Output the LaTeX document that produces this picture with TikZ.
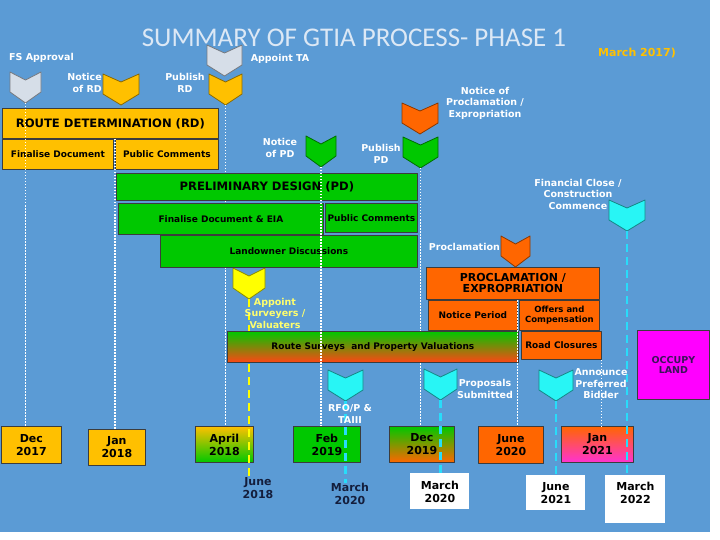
\documentclass[tikz,border=0pt]{standalone}
\usepackage{fontspec}
\newfontfamily\lblfont{DejaVu Sans}
\newfontfamily\ttlfont{Carlito}

\definecolor{bgblue}{RGB}{91,155,213}
\definecolor{ttlcol}{RGB}{220,232,245}
\definecolor{gold}{RGB}{255,192,0}
\definecolor{pdgreen}{RGB}{0,200,0}
\definecolor{prorange}{RGB}{255,102,0}
\definecolor{rsred}{RGB}{255,70,20}
\definecolor{mkcyan}{RGB}{40,245,245}
\definecolor{lncyan}{RGB}{40,220,250}
\definecolor{mkgray}{RGB}{214,222,232}
\definecolor{mkyellow}{RGB}{255,255,0}
\definecolor{lblyel}{RGB}{255,255,110}
\definecolor{occmag}{RGB}{255,0,255}
\definecolor{janmag}{RGB}{255,50,210}
\definecolor{boxline}{RGB}{60,60,60}
\definecolor{navy}{RGB}{20,30,60}
\definecolor{occtext}{RGB}{60,20,90}

\tikzset{
  blk/.style={draw=boxline, line width=0.8pt, anchor=north west, inner sep=1pt, align=center,
    text=black, font=\lblfont\bfseries\fontsize{9}{10.5}\selectfont},
  head/.style={blk, font=\lblfont\bfseries\fontsize{11.6}{11.5}\selectfont},
  datebox/.style={blk, font=\lblfont\bfseries\fontsize{11}{13}\selectfont},
  wbox/.style={datebox, fill=white, draw=none},
  lbl/.style={text=white, align=center, inner sep=0pt, font=\lblfont\bfseries\fontsize{9.5}{11.5}\selectfont},
  navytxt/.style={lbl, text=navy, font=\lblfont\bfseries\fontsize{11}{13.5}\selectfont},
  dotline/.style={white, line width=1.3pt, dash pattern=on 1.5pt off 1.5pt},
  dashln/.style={line width=2.8pt, dash pattern=on 8pt off 5pt},
}

% chevron marker: name, centre x, top y, width, colour
\newcommand{\chevron}[5]{%
  \filldraw[fill=#5, draw=#5!55!black, line width=0.8pt]
    ({#2-#4/2},#3) -- (#2,{#3+8}) -- ({#2+#4/2},#3) -- ({#2+#4/2},{#3+20})
    -- (#2,{#3+31}) -- ({#2-#4/2},{#3+20}) -- cycle;
  \coordinate (#1) at (#2,{#3+31});
}

\begin{document}
\begin{tikzpicture}[x=1pt, y=-1pt, line join=round]

  %% ════ background ════
  \fill[white] (0,0) rectangle (720,540);
  \fill[bgblue] (0,0) rectangle (710,532);

  %% ════ title ════
  \node[font=\ttlfont\fontsize{27}{30}\selectfont, text=ttlcol] (title) at (354,38) {SUMMARY OF GTIA PROCESS- PHASE 1};
  \node[lbl, text=gold, font=\lblfont\bfseries\fontsize{11}{13}\selectfont] (asat) at (637,53) {March 2017)};

  %% ════ date boxes ════
  \node[datebox, fill=gold, minimum width=60pt, minimum height=37pt] (dec17) at (1,426) {Dec\\2017};
  \node[datebox, fill=gold, minimum width=57pt, minimum height=36pt] (jan18) at (88,429) {Jan\\2018};
  \node[datebox, top color=gold, bottom color=pdgreen, minimum width=58pt, minimum height=36pt] (apr18) at (195,426) {April\\2018};
  \node[datebox, fill=pdgreen, minimum width=67pt, minimum height=36pt] (feb19) at (293,426) {Feb\\2019};
  \node[datebox, top color=pdgreen, bottom color=prorange, minimum width=65pt, minimum height=36pt] (dec19) at (389,426) {Dec\\2019};
  \node[datebox, fill=prorange, minimum width=65pt, minimum height=37pt] (jun20) at (478,426) {June\\2020};
  \node[datebox, top color=prorange, bottom color=janmag, minimum width=72pt, minimum height=36pt] (jan21) at (561,426) {Jan\\2021};
  \node[wbox, minimum width=59pt, minimum height=36pt] (mar20b) at (410,473) {March\\2020};
  \node[wbox, minimum width=59pt, minimum height=35pt] (jun21) at (526,475) {June\\2021};
  \node[wbox, minimum width=60pt, minimum height=48pt] (mar22) at (605,475) {March\\2022\\\mbox{}};
  \node[navytxt] (jun18) at (258,488) {June\\2018};
  \node[navytxt] (mar20a) at (350,494) {March\\2020};

  %% ════ markers ════
  \chevron{fs}{25.5}{72}{31}{mkgray}
  \chevron{notrd}{121}{74}{36}{gold}
  \chevron{pubrd}{225.5}{74}{33}{gold}
  \chevron{appta}{224.5}{45}{35}{mkgray}
  \chevron{notpd}{321}{136}{30}{pdgreen}
  \chevron{notpr}{420}{103}{36}{prorange}
  \chevron{pubpd}{420.5}{137}{35}{pdgreen}
  \chevron{fincl}{627}{200}{36}{mkcyan}
  \chevron{procl}{515.5}{236}{29}{prorange}
  \chevron{appsv}{249}{268}{32}{mkyellow}
  \chevron{rfop}{345.5}{370}{35}{mkcyan}
  \chevron{propsub}{440.5}{369}{33}{mkcyan}
  \chevron{annbid}{556}{370}{34}{mkcyan}

  %% ════ lines behind the phase boxes ════
  \draw[dotline] (pubrd) -- (pubrd |- apr18.north);
  \draw[dotline] (pubpd) -- (pubpd |- dec19.north);
  \draw[dashln, mkyellow] (appsv) -- (appsv |- jun18.north);
  \draw[dashln, lncyan] (rfop) -- (rfop |- mar20a.north);
  \draw[dashln, lncyan] (propsub) -- (propsub |- mar20b.north);
  \draw[dashln, lncyan] (annbid) -- (annbid |- jun21.north);
  \draw[dashln, lncyan] (fincl) -- (fincl |- mar22.north);

  %% ════ phase boxes ════
  \node[head, fill=gold, minimum width=216pt, minimum height=30pt] (rdmain) at (2,108) {ROUTE DETERMINATION (RD)};
  \node[blk, fill=gold, minimum width=111pt, minimum height=30pt] (rdfin) at (2,139) {Finalise Document};
  \node[blk, fill=gold, minimum width=103pt, minimum height=30pt] (rdpub) at (115,139) {Public Comments};

  \node[head, fill=pdgreen, minimum width=301pt, minimum height=27pt] (pdmain) at (116,173) {PRELIMINARY DESIGN (PD)};
  \node[blk, fill=pdgreen, minimum width=205pt, minimum height=31pt] (pdfin) at (118,203) {Finalise Document \& EIA};
  \node[blk, fill=pdgreen, minimum width=92pt, minimum height=29pt] (pdpub) at (325,203) {Public Comments};
  \node[blk, fill=pdgreen, minimum width=257pt, minimum height=32pt] (pdland) at (160,235) {Landowner Discussions};

  \node[head, fill=prorange, minimum width=173pt, minimum height=32pt, font=\lblfont\bfseries\fontsize{11}{11}\selectfont] (prmain) at (426,267) {PROCLAMATION /\\EXPROPRIATION};
  \node[blk, fill=prorange, minimum width=89pt, minimum height=30pt] (notper) at (428,300) {Notice Period};
  \node[blk, fill=prorange, minimum width=80pt, minimum height=30pt, font=\lblfont\bfseries\fontsize{8.5}{10}\selectfont] (offers) at (519,300) {Offers and\\Compensation};
  \node[blk, fill=prorange, minimum width=80pt, minimum height=28pt] (roadcl) at (521,331) {Road Closures};

  \node[blk, top color=pdgreen, bottom color=rsred, minimum width=291pt, minimum height=31pt] (route) at (227,331) {Route Surveys\ \ and Property Valuations};
  \node[blk, fill=occmag, text=occtext, minimum width=72pt, minimum height=69pt, font=\lblfont\bfseries\fontsize{9.5}{10.5}\selectfont] (occupy) at (637,330) {OCCUPY\\LAND};

  %% ════ lines over the boxes ════
  \draw[dotline] (fs) -- (fs |- dec17.north);
  \draw[dotline] (notpd) -- (notpd |- feb19.north);
  \draw[dotline] (rdpub.north west) -- (rdpub.north west |- jan18.north);
  \draw[dotline] (notper.north east) -- (notper.north east |- jun20.north);
  \draw[dotline] (roadcl.south east) -- (roadcl.south east |- jan21.north);

  %% ════ marker labels ════
  \node[lbl] (fsl) at (41.5,58) {FS Approval};
  \node[lbl, align=right, anchor=east] (notrdl) at (102,83) {Notice\\of RD};
  \node[lbl] (pubrdl) at (185,83) {Publish\\RD};
  \node[lbl] (apptal) at (280,59) {Appoint TA};
  \node[lbl] (notpdl) at (280,148) {Notice\\of PD};
  \node[lbl] (notprl) at (485,103) {Notice of\\Proclamation /\\Expropriation};
  \node[lbl] (pubpdl) at (381,154) {Publish\\PD};
  \node[lbl] (fincll) at (578,194) {Financial Close /\\Construction\\Commence};
  \node[lbl, anchor=east] (procll) at (500,247) {Proclamation};
  \node[lbl, text=lblyel] (appsvl) at (275,313) {Appoint\\Surveyers /\\Valuaters};
  \node[lbl] (rfopl) at (350,414) {RFO/P \&\\TAIII};
  \node[lbl] (propsubl) at (485,389) {Proposals\\Submitted};
  \node[lbl] (annbidl) at (601,384) {Announce\\Preferred\\Bidder};

  \pgfresetboundingbox
  \path[use as bounding box] (0,0) rectangle (720,540);
\end{tikzpicture}
\end{document}
